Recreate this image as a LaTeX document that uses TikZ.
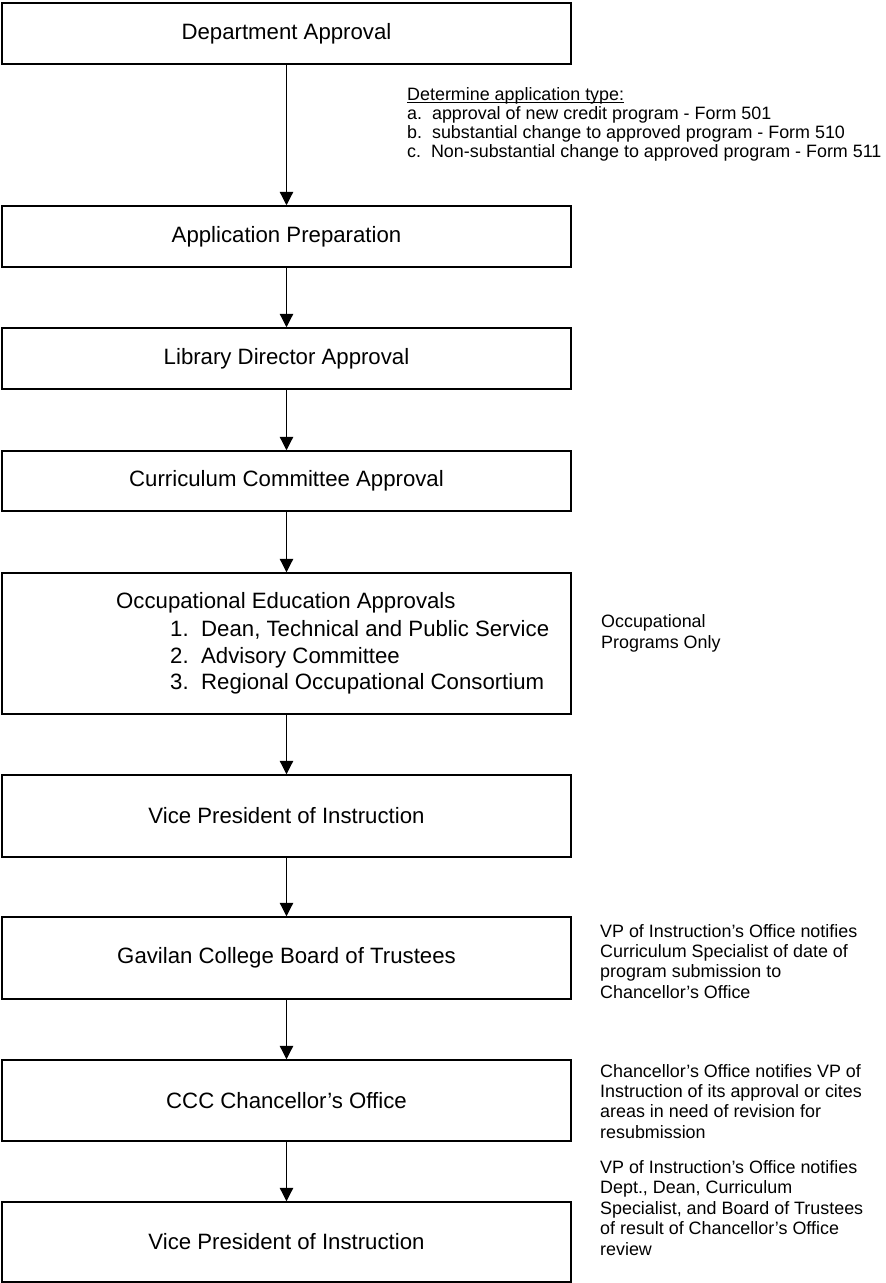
\documentclass[tikz,border=0pt]{standalone}
\usepackage{fontspec}
\setmainfont{Liberation Sans}
\usetikzlibrary{arrows.meta}
\newcommand\myul[1]{\setbox0\hbox{#1}\rlap{\rule[-2.2pt]{\wd0}{0.9pt}}\box0}
\newcommand\notetab[2]{\fontsize{17.9}{#1}\selectfont\begin{tabular}[t]{@{}l@{}}#2\end{tabular}}
\begin{document}
\begin{tikzpicture}[x=1pt,y=-1pt,
  stepbox/.style={draw, line width=1.5pt, minimum width=569pt, inner sep=0pt,
    font=\fontsize{22.2}{27}\selectfont},
  flow/.style={-{Triangle[length=13.5pt,width=13.5pt]}, line width=1.2pt},
  note/.style={anchor=base west, inner sep=0pt},
  occ/.style={anchor=base west, inner sep=0pt, font=\fontsize{22.2}{27}\selectfont}]
\useasboundingbox (0,0) rectangle (886,1283);

\node[stepbox, minimum height=61pt] (b1) at (286.5,33.5) {Department Approval};
\node[stepbox, minimum height=61pt] (b2) at (286.5,236.5) {Application Preparation};
\node[stepbox, minimum height=61pt] (b3) at (286.5,358.5) {Library Director Approval};
\node[stepbox, minimum height=60pt] (b4) at (286.5,481) {Curriculum Committee Approval};
\node[stepbox, minimum height=141pt] (b5) at (286.5,643.5) {};
\node[stepbox, minimum height=82pt] (b6) at (286.5,816) {Vice President of Instruction};
\node[stepbox, minimum height=82pt] (b7) at (286.5,958) {Gavilan College Board of Trustees};
\node[stepbox, minimum height=81pt] (b8) at (286.5,1100.5) {CCC Chancellor’s Office};
\node[stepbox, minimum height=80pt] (b9) at (286.5,1242) {Vice President of Instruction};

\node[occ] (o0) at (116,608) {Occupational Education Approvals};
\node[occ] (o1) at (170,636) {\makebox[31pt][l]{1.}Dean, Technical and Public Service};
\node[occ] (o2) at (170,663) {\makebox[31pt][l]{2.}Advisory Committee};
\node[occ] (o3) at (170,689.5) {\makebox[31pt][l]{3.}Regional Occupational Consortium};

\draw[flow] (b1) -- (b2);
\draw[flow] (b2) -- (b3);
\draw[flow] (b3) -- (b4);
\draw[flow] (b4) -- (b5);
\draw[flow] (b5) -- (b6);
\draw[flow] (b6) -- (b7);
\draw[flow] (b7) -- (b8);
\draw[flow] (b8) -- (b9);

\node[note] (n1) at (407,100.7) {\notetab{18.9}{\myul{Determine application type:}\\
a.\ \ approval of new credit program - Form 501\\
b.\ \ substantial change to approved program - Form 510\\
c.\ \ Non-substantial change to approved program - Form 511}};

\node[note] (n5) at (601,627.5) {\notetab{21}{Occupational\\Programs Only}};

\node[note] (n7) at (600,937) {\notetab{20.4}{VP of Instruction’s Office notifies\\
Curriculum Specialist of date of\\
program submission to\\
Chancellor's Office}};

\node[note] (n8) at (600,1077) {\notetab{20.4}{Chancellor's Office notifies VP of\\
Instruction of its approval or cites\\
areas in need of revision for\\
resubmission}};

\node[note] (n9) at (600,1173) {\notetab{20.5}{VP of Instruction’s Office notifies\\
Dept., Dean, Curriculum\\
Specialist, and Board of Trustees\\
of result of Chancellor’s Office\\
review}};
\end{tikzpicture}
\end{document}
